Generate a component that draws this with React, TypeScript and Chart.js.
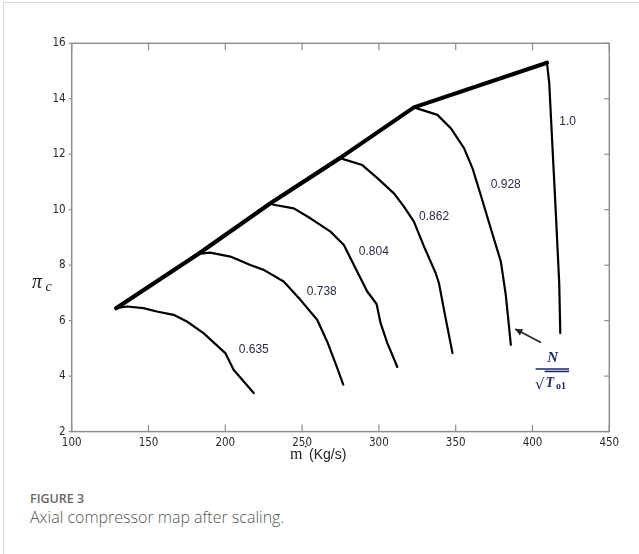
import React, { useEffect, useRef } from "react";
import { Chart, registerables } from "chart.js";

Chart.register(...registerables);

// ---- Data ----
const xTicks = [100, 150, 200, 250, 300, 350, 400, 450];
const yTicks = [2, 4, 6, 8, 10, 12, 14, 16];

const surgeLine: [number, number][] = [
  [128.9, 6.45], [182.6, 8.41], [229.4, 10.23], [274.6, 11.86], [322.8, 13.69], [409.4, 15.3],
];
const speed0635: [number, number][] = [
  [128.9, 6.45], [135.9, 6.51], [146.7, 6.45], [155.4, 6.33], [166.3, 6.21], [175.0, 5.97],
  [185.8, 5.55], [200.0, 4.83], [205.4, 4.23], [218.5, 3.39],
];
const speed0738: [number, number][] = [
  [182.6, 8.41], [190.2, 8.45], [203.3, 8.31], [216.3, 8.01], [225.0, 7.83], [238.0, 7.41],
  [248.9, 6.75], [259.8, 6.03], [266.3, 5.25], [272.9, 4.29], [276.8, 3.69],
];
const speed0804: [number, number][] = [
  [229.4, 10.23], [231.5, 10.18], [244.6, 10.05], [255.4, 9.69], [268.5, 9.21], [277.2, 8.73],
  [283.7, 8.01], [292.4, 7.05], [298.5, 6.6], [301.1, 5.91], [305.5, 5.19], [312.0, 4.33],
];
const speed0862: [number, number][] = [
  [274.6, 11.86], [289.2, 11.61], [299.0, 11.14], [309.8, 10.59], [316.3, 10.11], [322.8, 9.57],
  [329.4, 8.67], [337.0, 7.71], [339.1, 7.35], [342.4, 6.39], [347.9, 4.83],
];
const speed0928: [number, number][] = [
  [322.8, 13.69], [338.1, 13.42], [346.8, 12.94], [355.4, 12.22], [360.9, 11.5], [366.3, 10.53],
  [372.8, 9.33], [379.4, 8.13], [382.6, 6.93], [385.9, 5.13],
];
const speed1000: [number, number][] = [
  [409.4, 15.3], [410.9, 14.56], [413.1, 12.15], [415.3, 9.75], [417.4, 7.35], [418.1, 5.55],
];

const speedCurves = [speed0635, speed0738, speed0804, speed0862, speed0928, speed1000];
const speedLabels = ["0.635", "0.738", "0.804", "0.862", "0.928", "1.0"];
const speedLabelX = [218.5, 262.8, 296.7, 335.9, 382.6, 422.9];
const speedLabelY = [4.95, 7.05, 8.49, 9.75, 10.89, 13.17];

// annotation N/sqrt(To1) anchor and arrow (data coordinates)
const fracAnchor: [number, number] = [413.1, 4.71];
const arrowTail: [number, number] = [405.5, 5.21];
const arrowHead: [number, number] = [388.7, 5.7];

const toXY = (pts: [number, number][]) => pts.map(([x, y]) => ({ x, y }));

const overlayPlugin = {
  id: "overlay",
  afterDraw(chart: any) {
    const ctx: CanvasRenderingContext2D = chart.ctx;
    const { left, right, top, bottom } = chart.chartArea;
    const xs = chart.scales.x;
    const ys = chart.scales.y;
    ctx.save();

    // axis box
    ctx.strokeStyle = "#8e8e8e";
    ctx.lineWidth = 1.5;
    ctx.strokeRect(left, top, right - left, bottom - top);
    const seg = (x1: number, y1: number, x2: number, y2: number) => {
      ctx.beginPath();
      ctx.moveTo(x1, y1);
      ctx.lineTo(x2, y2);
      ctx.stroke();
    };
    ctx.lineWidth = 1.2;
    xTicks.forEach((v) => {
      const px = xs.getPixelForValue(v);
      seg(px, bottom, px, bottom - 7);
      seg(px, top, px, top + 7);
    });
    yTicks.forEach((v) => {
      const py = ys.getPixelForValue(v);
      seg(right, py, right - 5, py);
      seg(left, py, left - 3, py);
    });

    // speed labels
    ctx.font = "12px 'Liberation Sans', Arial, sans-serif";
    ctx.fillStyle = "#2a2d45";
    ctx.textAlign = "center";
    ctx.textBaseline = "middle";
    speedLabels.forEach((t, i) => {
      ctx.fillText(t, xs.getPixelForValue(speedLabelX[i]), ys.getPixelForValue(speedLabelY[i]));
    });

    // arrow
    const tx = xs.getPixelForValue(arrowTail[0]);
    const ty = ys.getPixelForValue(arrowTail[1]);
    const hx = xs.getPixelForValue(arrowHead[0]);
    const hy = ys.getPixelForValue(arrowHead[1]);
    ctx.strokeStyle = "#222";
    ctx.fillStyle = "#222";
    ctx.lineWidth = 1.6;
    seg(tx, ty, hx, hy);
    const ang = Math.atan2(hy - ty, hx - tx);
    ctx.beginPath();
    ctx.moveTo(hx, hy);
    ctx.lineTo(hx - 8 * Math.cos(ang - 0.45), hy - 8 * Math.sin(ang - 0.45));
    ctx.lineTo(hx - 8 * Math.cos(ang + 0.45), hy - 8 * Math.sin(ang + 0.45));
    ctx.closePath();
    ctx.fill();

    // N / sqrt(To1)
    const fx = xs.getPixelForValue(fracAnchor[0]);
    const fy = ys.getPixelForValue(fracAnchor[1]);
    ctx.fillStyle = "#1d2a5c";
    ctx.strokeStyle = "#1d2a5c";
    ctx.font = "bold italic 15px 'Liberation Serif', 'Times New Roman', serif";
    ctx.textAlign = "center";
    ctx.textBaseline = "alphabetic";
    ctx.fillText("N", fx, fy + 5.5);
    ctx.lineWidth = 1.6;
    seg(fx - 17, fy + 12.5, fx + 16.5, fy + 12.5);
    seg(fx - 8, fy + 15, fx + 16.5, fy + 15);
    ctx.font = "15px 'DejaVu Serif', serif";
    ctx.textAlign = "left";
    ctx.fillText("√", fx - 17.5, fy + 33);
    ctx.font = "bold italic 14px 'Liberation Serif', 'Times New Roman', serif";
    ctx.fillText("T", fx - 7, fy + 30.5);
    ctx.font = "bold 10px 'Liberation Serif', 'Times New Roman', serif";
    ctx.fillText("o1", fx + 3.5, fy + 32.5);

    // axis titles
    ctx.fillStyle = "#222";
    ctx.font = "italic 20px 'Liberation Serif', 'Times New Roman', serif";
    ctx.textAlign = "left";
    ctx.fillText("π", 32, 288);
    ctx.font = "italic 14px 'Liberation Serif', 'Times New Roman', serif";
    ctx.fillText("c", 45.5, 291);

    ctx.font = "16px 'Liberation Serif', 'Times New Roman', serif";
    ctx.fillText("m", 290, 459);
    ctx.font = "bold 13px 'Liberation Sans', sans-serif";
    ctx.fillText("˙", 303.5, 455);
    ctx.font = "14px 'Liberation Sans', Arial, sans-serif";
    ctx.fillText("(Kg/s)", 309, 459);

    ctx.restore();
  },
};

function CompressorChart() {
  const ref = useRef<HTMLCanvasElement | null>(null);
  useEffect(() => {
    if (!ref.current) return;
    const lineDs = (pts: [number, number][], w: number) => ({
      data: toXY(pts),
      showLine: true,
      borderColor: "#000",
      backgroundColor: "#000",
      borderWidth: w,
      pointRadius: 0,
      pointHoverRadius: 0,
      tension: 0,
      borderJoinStyle: "round" as const,
      borderCapStyle: "round" as const,
    });
    const tickFont = {
      family: "'Liberation Sans Narrow', 'DejaVu Sans Condensed', 'DejaVu Sans', sans-serif",
      size: 11.5,
      weight: "normal condensed",
    };
    const chart = new Chart(ref.current, {
      type: "scatter",
      data: {
        datasets: [...speedCurves.map((c) => lineDs(c, 2.2)), lineDs(surgeLine, 4.2)],
      },
      plugins: [overlayPlugin],
      options: {
        animation: false,
        responsive: false,
        devicePixelRatio: 1,
        layout: { padding: { left: 31.7, right: 29.7, top: 43.3, bottom: 18.4 } },
        plugins: { legend: { display: false }, tooltip: { enabled: false }, title: { display: false } },
        events: [],
        scales: {
          x: {
            type: "linear",
            min: 100,
            max: 450,
            afterFit: (s: any) => { s.height = 20; },
            afterBuildTicks: (s: any) => { s.ticks = xTicks.map((v) => ({ value: v })); },
            grid: { display: false, drawTicks: false },
            border: { display: false },
            ticks: { color: "#2a2a2a", font: tickFont, padding: 5, maxRotation: 0 },
          },
          y: {
            type: "linear",
            min: 2,
            max: 16,
            afterFit: (s: any) => { s.width = 40; },
            afterBuildTicks: (s: any) => { s.ticks = yTicks.map((v) => ({ value: v })); },
            grid: { display: false, drawTicks: false },
            border: { display: false },
            ticks: { color: "#2a2a2a", font: tickFont, padding: 6 },
          },
        },
      } as any,
    });
    return () => chart.destroy();
  }, []);
  return (
    <canvas
      ref={ref}
      width={639}
      height={470}
      style={{ position: "absolute", left: 0, top: 0, width: 639, height: 470 }}
    />
  );
}

export default function App() {
  return (
    <div
      style={{
        position: "absolute",
        left: 0,
        top: 0,
        width: 639,
        height: 554,
        overflow: "hidden",
        background: "#fff",
      }}
    >
      <div
        style={{
          position: "absolute",
          left: 3,
          top: 2,
          width: 800,
          height: 800,
          border: "1px solid #d9d9d9",
        }}
      />
      <CompressorChart />
      <div
        style={{
          position: "absolute",
          left: 30,
          top: 491,
          fontFamily: "'Open Sans', sans-serif",
          fontSize: 12.5,
          fontWeight: 600,
          color: "#666",
          lineHeight: "16px",
          whiteSpace: "nowrap",
        }}
      >
        FIGURE 3
      </div>
      <div
        style={{
          position: "absolute",
          left: 30,
          top: 506,
          fontFamily: "'Open Sans', sans-serif",
          fontSize: 16,
          fontWeight: 300,
          color: "#555",
          lineHeight: "22px",
          whiteSpace: "nowrap",
        }}
      >
        Axial compressor map after scaling.
      </div>
    </div>
  );
}
